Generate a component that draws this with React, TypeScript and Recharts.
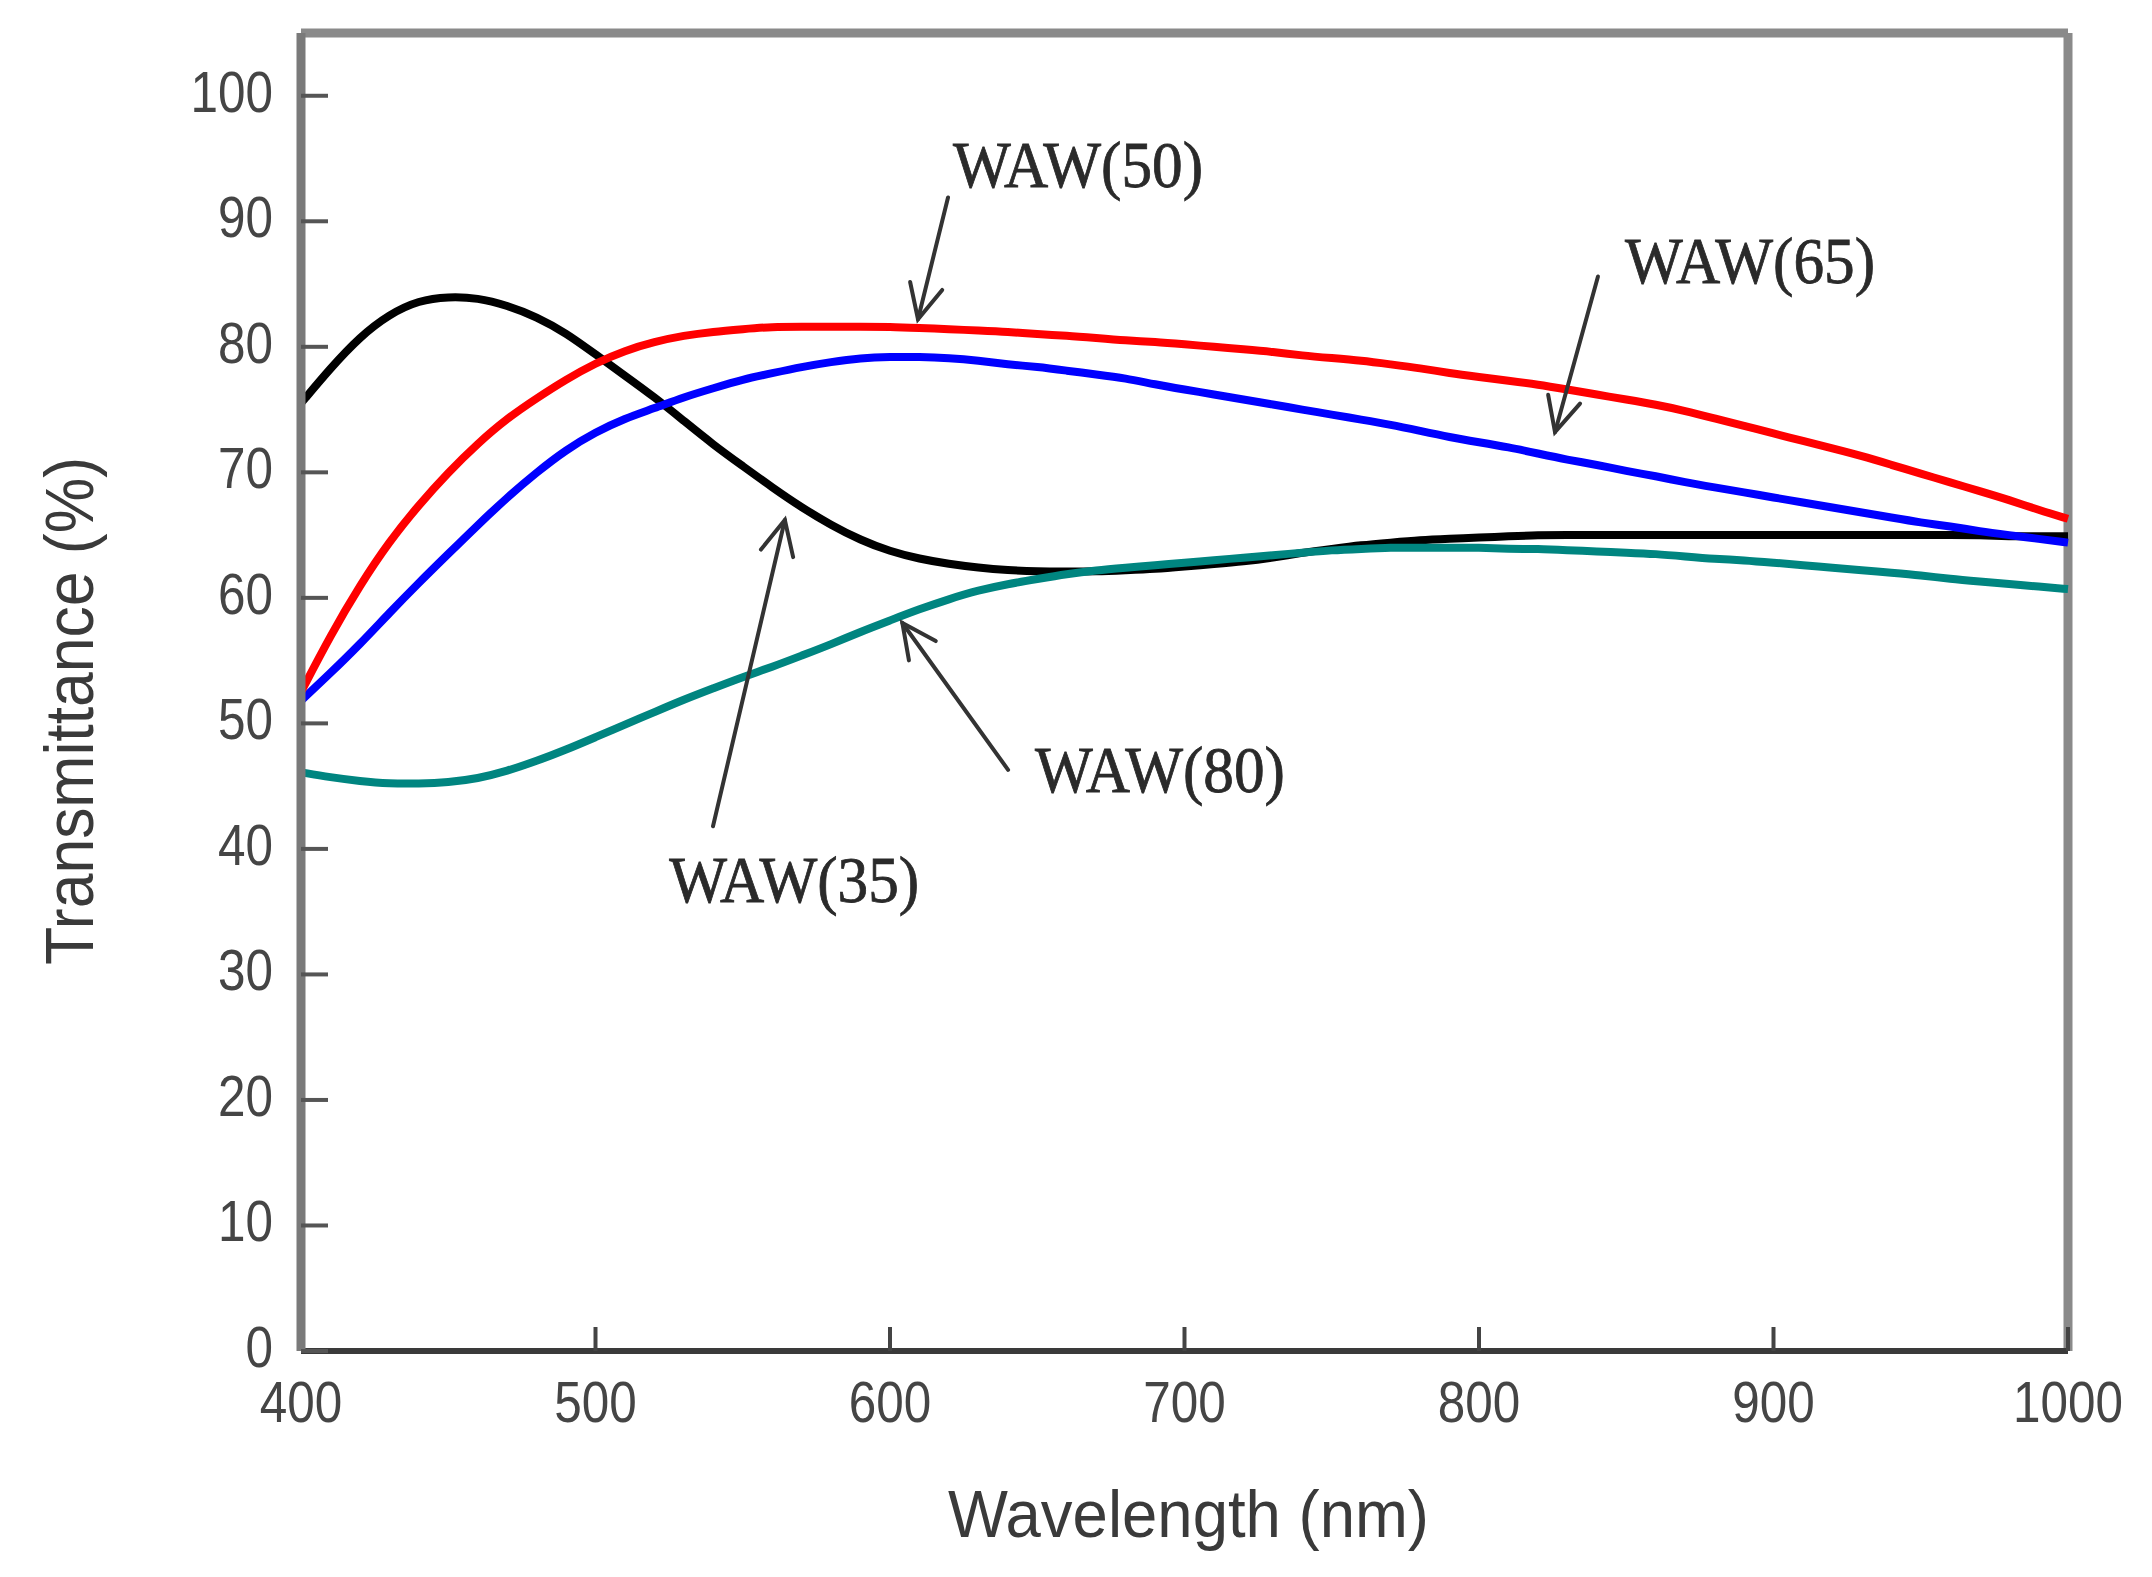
import React from 'react'
import { LineChart, Line, XAxis, YAxis, ReferenceLine, ReferenceDot } from 'recharts'

const WAVELENGTHS = [
  400, 410, 420, 430, 440, 450, 460, 470, 480, 490,
  500, 510, 520, 530, 540, 550, 560, 570, 580, 590,
  600, 610, 620, 630, 640, 650, 660, 670, 680, 690,
  700, 710, 720, 730, 740, 750, 760, 770, 780, 790,
  800, 810, 820, 830, 840, 850, 860, 870, 880, 890,
  900, 910, 920, 930, 940, 950, 960, 970, 980, 990,
  1000,
]

const WAW35 = [
  75.5, 78.3, 80.8, 82.6, 83.7, 84.0, 83.9, 83.3, 82.4, 81.1,
  79.4, 77.7, 76.0, 74.1, 72.2, 70.5, 68.8, 67.2, 65.8, 64.6,
  63.7, 63.1, 62.7, 62.4, 62.2, 62.1, 62.1, 62.1, 62.2, 62.3,
  62.5, 62.7, 62.9, 63.2, 63.6, 63.9, 64.2, 64.4, 64.6, 64.7,
  64.8, 64.9, 65.0, 65.0, 65.0, 65.0, 65.0, 65.0, 65.0, 65.0,
  65.0, 65.0, 65.0, 65.0, 65.0, 65.0, 65.0, 65.0, 64.9, 64.9,
  64.9,
]

const WAW50 = [
  52.5, 57.0, 61.0, 64.5, 67.4, 70.0, 72.3, 74.3, 75.9, 77.4,
  78.7, 79.7, 80.4, 80.9, 81.2, 81.4, 81.6, 81.6, 81.6, 81.6,
  81.6, 81.5, 81.4, 81.3, 81.2, 81.0, 80.9, 80.7, 80.5, 80.4,
  80.2, 80.0, 79.8, 79.6, 79.3, 79.1, 78.9, 78.6, 78.3, 77.9,
  77.6, 77.3, 77.0, 76.6, 76.2, 75.8, 75.4, 74.9, 74.3, 73.7,
  73.1, 72.5, 71.9, 71.3, 70.6, 69.9, 69.2, 68.5, 67.8, 67.0,
  66.3,
]

const WAW65 = [
  51.8, 54.0, 56.3, 58.8, 61.2, 63.5, 65.8, 68.0, 70.0, 71.8,
  73.2, 74.3, 75.1, 76.0, 76.7, 77.4, 77.9, 78.4, 78.8, 79.1,
  79.2, 79.2, 79.1, 78.9, 78.6, 78.4, 78.1, 77.8, 77.5, 77.0,
  76.6, 76.2, 75.8, 75.4, 75.0, 74.6, 74.2, 73.8, 73.3, 72.8,
  72.4, 72.0, 71.5, 71.0, 70.6, 70.1, 69.7, 69.2, 68.8, 68.4,
  68.0, 67.6, 67.2, 66.8, 66.4, 66.0, 65.7, 65.3, 65.0, 64.7,
  64.4,
]

const WAW80 = [
  46.1, 45.7, 45.4, 45.2, 45.2, 45.3, 45.6, 46.2, 47.0, 47.9,
  48.9, 49.9, 50.9, 51.9, 52.8, 53.7, 54.5, 55.4, 56.3, 57.3,
  58.2, 59.1, 59.9, 60.6, 61.1, 61.5, 61.9, 62.2, 62.4, 62.6,
  62.8, 63.0, 63.2, 63.4, 63.6, 63.8, 63.9, 64.0, 64.0, 64.0,
  64.0, 63.9, 63.9, 63.8, 63.7, 63.6, 63.5, 63.3, 63.1, 63.0,
  62.8, 62.6, 62.4, 62.2, 62.0, 61.8, 61.5, 61.3, 61.1, 60.9,
  60.7,
]

const X_TICKS = [400, 500, 600, 700, 800, 900, 1000]
const Y_TICKS = [0, 10, 20, 30, 40, 50, 60, 70, 80, 90, 100]

// text anchor (left, baseline) and arrow from -> to, in data units
const ANNOTATIONS = [
  { label: 'WAW(50)', textX: 621.4, textY: 92.7, fromX: 619.7, fromY: 91.9, toX: 609.5, toY: 82.2 },
  { label: 'WAW(65)', textX: 849.6, textY: 85.1, fromX: 840.4, fromY: 85.6, toX: 825.8, toY: 73.2 },
  { label: 'WAW(80)', textX: 649.2, textY: 44.5, fromX: 640.1, fromY: 46.3, toX: 604.2, toY: 58.0 },
  { label: 'WAW(35)', textX: 525.0, textY: 35.8, fromX: 539.9, fromY: 41.8, toX: 564.3, toY: 66.2 },
]

const SANS = '"Liberation Sans", Arial, sans-serif'
const SERIF = '"Liberation Serif", "Times New Roman", serif'

const rows = WAVELENGTHS.map((w, i) => ({
  wl: w, w35: WAW35[i], w50: WAW50[i], w65: WAW65[i], w80: WAW80[i],
}))

function YTick({ x, y, payload }: any) {
  const s = String(payload.value)
  return (
    <text x={x} y={y + 16} textAnchor="end" fontSize={58} fill="#454545" fontFamily={SANS}
      textLength={s.length * 27.5} lengthAdjust="spacingAndGlyphs">{s}</text>
  )
}

function XTick({ x, y, payload }: any) {
  const s = String(payload.value)
  return (
    <text x={x} y={y} textAnchor="middle" fontSize={58} fill="#454545" fontFamily={SANS}
      textLength={s.length * 27.5} lengthAdjust="spacingAndGlyphs">{s}</text>
  )
}

function YTitle({ viewBox }: any) {
  const cx = viewBox.x - 108
  const cy = viewBox.y + viewBox.height / 2 + 19
  return (
    <text x={cx} y={cy} transform={`rotate(-90, ${cx}, ${cy})`} textAnchor="middle" fontSize={68}
      fill="#3a3a3a" fontFamily={SANS} textLength={508} lengthAdjust="spacingAndGlyphs">Transmittance (%)</text>
  )
}

function XTitle({ viewBox }: any) {
  const cx = viewBox.x + viewBox.width / 2 + 4
  return (
    <text x={cx} y={viewBox.y + 186} textAnchor="middle" fontSize={66}
      fill="#3a3a3a" fontFamily={SANS} textLength={481} lengthAdjust="spacingAndGlyphs">Wavelength (nm)</text>
  )
}

function Arrow({ x1, y1, x2, y2 }: any) {
  const a = Math.atan2(y2 - y1, x2 - x1)
  const len = 38, spread = 0.45
  const b1x = x2 - len * Math.cos(a - spread), b1y = y2 - len * Math.sin(a - spread)
  const b2x = x2 - len * Math.cos(a + spread), b2y = y2 - len * Math.sin(a + spread)
  return (
    <g stroke="#333" strokeWidth={4} fill="none" strokeLinecap="round">
      <line x1={x1} y1={y1} x2={x2} y2={y2} />
      <polyline points={`${b1x},${b1y} ${x2},${y2} ${b2x},${b2y}`} />
    </g>
  )
}

const annText = (label: string) => ({ cx, cy }: any) => (
  <text x={cx} y={cy} fontSize={66} fill="#2a2a2a" stroke="#2a2a2a" strokeWidth={0.8} fontFamily={SERIF}
    textLength={250} lengthAdjust="spacingAndGlyphs">{label}</text>
)

export default function App() {
  return (
    <div style={{ position: 'absolute', left: 0, top: 0, background: '#fff' }}>
      <LineChart width={2152} height={1577} data={rows}
        margin={{ top: 33, right: 84, bottom: 126, left: 201 }}>
        <XAxis dataKey="wl" type="number" domain={[400, 1000]} ticks={X_TICKS} height={100}
          axisLine={{ stroke: '#3a3a3a', strokeWidth: 6 }}
          tickLine={{ stroke: '#444', strokeWidth: 4 }} tickSize={-24} tickMargin={95}
          tick={<XTick />} interval={0} label={{ content: XTitle }} />
        <YAxis type="number" domain={[0, 105]} ticks={Y_TICKS} width={100}
          axisLine={{ stroke: '#7a7a7a', strokeWidth: 9 }}
          tickLine={{ stroke: '#555', strokeWidth: 4 }} tickSize={-27} tickMargin={55}
          tick={<YTick />} interval={0} label={{ content: YTitle }} />
        <ReferenceLine y={105} stroke="#8a8a8a" strokeWidth={9} />
        <ReferenceLine x={1000} stroke="#8a8a8a" strokeWidth={9} />
        <Line dataKey="w35" type="basis" stroke="#000000" strokeWidth={8} dot={false} isAnimationActive={false} />
        <Line dataKey="w80" type="basis" stroke="#008580" strokeWidth={8} dot={false} isAnimationActive={false} />
        <Line dataKey="w65" type="basis" stroke="#0000ff" strokeWidth={8} dot={false} isAnimationActive={false} />
        <Line dataKey="w50" type="basis" stroke="#ff0000" strokeWidth={8} dot={false} isAnimationActive={false} />
        {ANNOTATIONS.map(a => (
          <ReferenceLine key={a.label + '-arrow'} segment={[{ x: a.fromX, y: a.fromY }, { x: a.toX, y: a.toY }]}
            shape={Arrow} />
        ))}
        {ANNOTATIONS.map(a => (
          <ReferenceDot key={a.label} x={a.textX} y={a.textY} r={0} shape={annText(a.label)} />
        ))}
      </LineChart>
    </div>
  )
}
